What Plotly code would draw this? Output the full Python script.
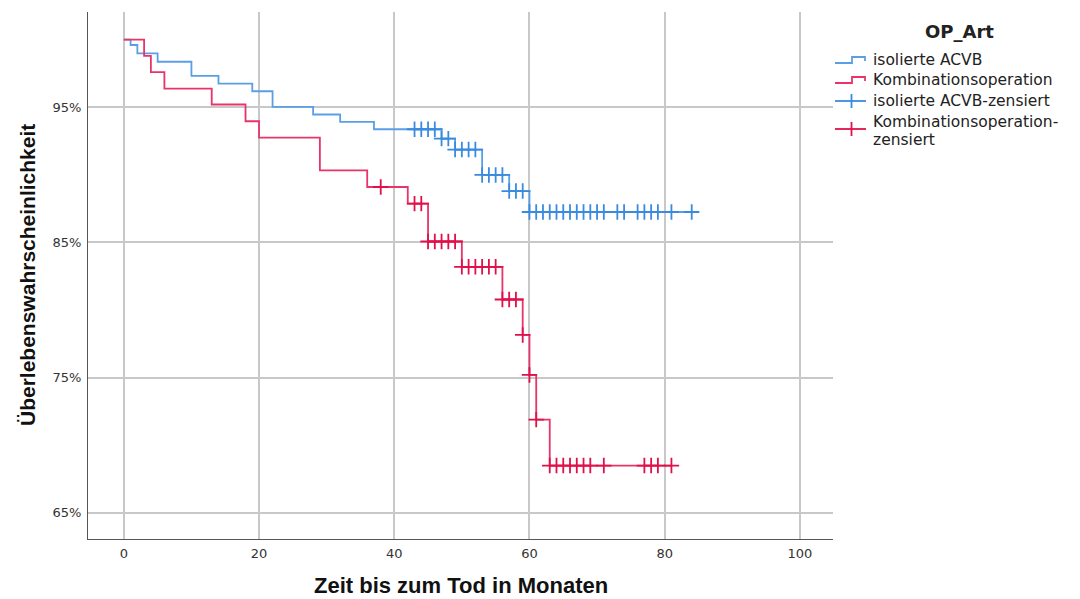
import plotly.graph_objects as go

# ---- data ----
# isolierte ACVB: event times (months) and survival (%) after each drop
acvb_time = [0, 1, 2, 5, 10, 14, 19, 22, 28, 32, 37, 47, 49, 53, 57, 60]
acvb_surv = [100, 99.6, 98.98, 98.36, 97.32, 96.75, 96.18, 95.02, 94.46, 93.91, 93.37, 92.68, 91.87, 89.99, 88.8, 87.25]
acvb_end = 84
acvb_censored = [43, 44, 45, 46, 47, 48, 49, 50, 51, 52, 53, 54, 55, 56, 57, 58, 59,
                 60, 61, 62, 63, 64, 65, 66, 67, 68, 69, 70, 71, 73, 74, 76, 77, 78, 79, 81, 84]

# Kombinationsoperation
komb_time = [0, 3, 4, 6, 13, 18, 20, 29, 36, 42, 45, 50, 56, 59, 60, 61, 63]
komb_surv = [100, 98.8, 97.6, 96.38, 95.2, 93.96, 92.75, 90.33, 89.1, 87.87, 85.07, 83.2, 80.78, 78.16, 75.2, 71.9, 68.5]
komb_end = 81
komb_censored = [38, 43, 44, 45, 46, 47, 48, 49, 50, 51, 52, 53, 54, 55, 56, 57, 58, 59, 60, 61,
                 63, 64, 65, 66, 67, 68, 69, 71, 77, 78, 79, 81]

x_ticks = [0, 20, 40, 60, 80, 100]
y_ticks = [65, 75, 85, 95]

legend_title = "OP_Art"
legend_names = ["isolierte ACVB", "Kombinationsoperation",
                "isolierte ACVB-zensiert", "Kombinationsoperation-\nzensiert"]

BLUE_LINE = "#5a9fe6"
BLUE_MARK = "#3a8ae0"
RED_LINE = "#e8346a"
RED_MARK = "#e0104a"

W, H = 1080, 599
ML, MR, MT, MB = 88, 247, 12, 60
PW, PH = W - ML - MR, H - MT - MB


def surv_at(times, surv, t):
    s = surv[0]
    for ti, si in zip(times, surv):
        if ti <= t:
            s = si
    return s


def px(xp):  # pixel -> paper x
    return (xp - ML) / PW


def py(yp):  # pixel -> paper y
    return (H - MB - yp) / PH


fig = go.Figure()

fig.add_trace(go.Scatter(
    x=acvb_time + [acvb_end], y=acvb_surv + [acvb_surv[-1]],
    mode="lines", line=dict(color=BLUE_LINE, width=1.8, shape="hv"),
    name=legend_names[0], showlegend=False))
fig.add_trace(go.Scatter(
    x=komb_time + [komb_end], y=komb_surv + [komb_surv[-1]],
    mode="lines", line=dict(color=RED_LINE, width=1.8, shape="hv"),
    name=legend_names[1], showlegend=False))
fig.add_trace(go.Scatter(
    x=acvb_censored, y=[surv_at(acvb_time, acvb_surv, t) for t in acvb_censored],
    mode="markers",
    marker=dict(symbol="cross-thin", size=11, line=dict(color=BLUE_MARK, width=1.8), color=BLUE_MARK),
    name=legend_names[2], showlegend=False))
fig.add_trace(go.Scatter(
    x=komb_censored, y=[surv_at(komb_time, komb_surv, t) for t in komb_censored],
    mode="markers",
    marker=dict(symbol="cross-thin", size=11, line=dict(color=RED_MARK, width=1.8), color=RED_MARK),
    name=legend_names[3].replace("\n", ""), showlegend=False))

# ---- custom legend (SPSS style step glyphs) ----
shapes = []
annotations = []
LEG_FONT = dict(family="DejaVu Sans", size=15.5, color="#222222")


def step_glyph(yc, color):
    pts = [(835, yc + 3), (852, yc + 3), (852, yc - 3), (865, yc - 3), (865, yc + 1)]
    path = "M " + " L ".join(f"{px(a):.5f},{py(b):.5f}" for a, b in pts)
    shapes.append(dict(type="path", xref="paper", yref="paper", path=path,
                       line=dict(color=color, width=1.8)))


def cross_glyph(yc, color):
    shapes.append(dict(type="line", xref="paper", yref="paper",
                       x0=px(835), x1=px(866), y0=py(yc), y1=py(yc),
                       line=dict(color=color, width=1.8)))
    shapes.append(dict(type="line", xref="paper", yref="paper",
                       x0=px(851.5), x1=px(851.5), y0=py(yc - 7), y1=py(yc + 7),
                       line=dict(color=color, width=1.8)))


annotations.append(dict(text=f"<b>{legend_title}</b>", xref="paper", yref="paper",
                        x=px(959), y=py(31.5), xanchor="center", yanchor="middle",
                        showarrow=False,
                        font=dict(family="DejaVu Sans", size=18, color="#222222")))
glyph_y = [60, 80, 101, 129]
glyphs = [(step_glyph, BLUE_LINE), (step_glyph, RED_LINE),
          (cross_glyph, BLUE_MARK), (cross_glyph, RED_MARK)]
for name, yc, (fn, col) in zip(legend_names, glyph_y, glyphs):
    fn(yc, col)
    lines = name.split("\n")
    start = yc - 9 * (len(lines) - 1)
    for i, ln in enumerate(lines):
        annotations.append(dict(text=ln, xref="paper", yref="paper",
                                x=px(871), y=py(start + 18 * i + (2 if len(lines) > 1 else 0)),
                                xanchor="left", yanchor="middle",
                                align="left", showarrow=False, font=LEG_FONT))

annotations.append(dict(text="<b>Zeit bis zum Tod in Monaten</b>", xref="paper", yref="paper",
                        x=0.5, y=py(585), xanchor="center", yanchor="middle",
                        showarrow=False,
                        font=dict(family="Liberation Sans", size=22, color="#111111")))
annotations.append(dict(text="<b>Überlebenswahrscheinlichkeit</b>", xref="paper", yref="paper",
                        x=px(27), y=py(275), xanchor="center", yanchor="middle", textangle=-90,
                        showarrow=False,
                        font=dict(family="Liberation Sans", size=21, color="#111111")))

fig.update_layout(
    width=W, height=H,
    margin=dict(l=ML, r=MR, t=MT, b=MB),
    paper_bgcolor="white", plot_bgcolor="white",
    font=dict(family="DejaVu Sans", size=13, color="#333333"),
    showlegend=False,
    xaxis=dict(
        range=[-5.3, 104.9], tickvals=x_ticks, ticktext=[str(v) for v in x_ticks],
        showgrid=True, gridcolor="#c8c8c8", gridwidth=1.6,
        showline=True, linecolor="#555555", linewidth=1, zeroline=False,
        ticks="", tickfont=dict(size=13, color="#333333"), automargin=False,
        ticklabelstandoff=2),
    yaxis=dict(
        range=[63.07, 102.04], tickvals=y_ticks, ticktext=[f"{v}%" for v in y_ticks],
        showgrid=True, gridcolor="#c8c8c8", gridwidth=1.6,
        showline=True, linecolor="#555555", linewidth=1, zeroline=False,
        ticks="", tickfont=dict(size=13, color="#333333"), automargin=False,
        ticklabelstandoff=3),
    shapes=shapes,
    annotations=annotations,
)

fig.write_html("out.html")
